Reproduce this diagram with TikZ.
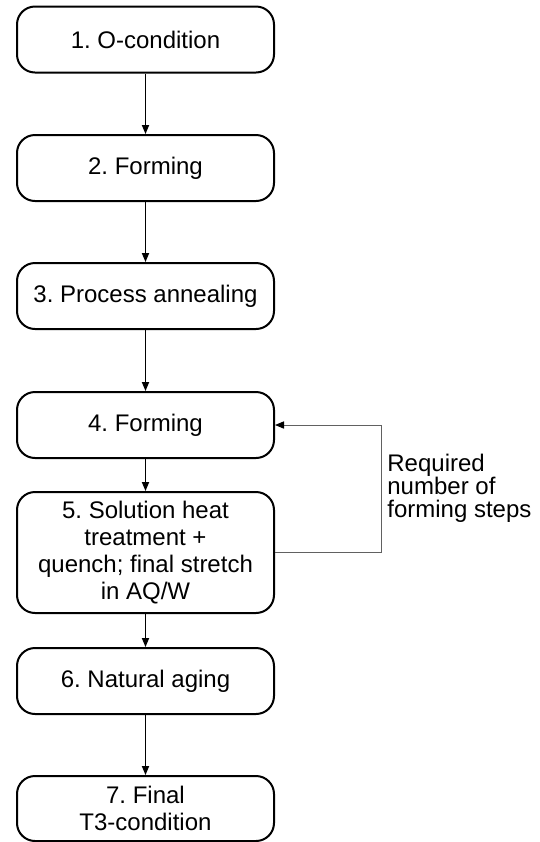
\documentclass[tikz,border=0pt]{standalone}
\usepackage{fontspec}
\setmainfont{Liberation Sans}
\usetikzlibrary{arrows.meta}
\frenchspacing
\tikzset{
  stepbox/.style={draw, line width=1pt, rounded corners=9pt, minimum width=128.5pt,
    minimum height=33pt, inner sep=0pt, align=center,
    font=\fontsize{12}{13.5}\selectfont},
  flow/.style={line width=0.6pt, -{Triangle[length=4.5pt,width=3.6pt]}},
  loopline/.style={line width=0.5pt, draw=black!62, -{Triangle[length=4.5pt,width=3.6pt,color=black]}},
  note/.style={align=left, inner sep=0pt, font=\fontsize{12}{11.6}\selectfont}
}
\begin{document}
\begin{tikzpicture}[x=0.5pt,y=-0.5pt]
  \useasboundingbox (0,0) rectangle (540,842);
  \node[stepbox] (n1) at (145.5,39.5) {1. O-condition};
  \node[stepbox] (n2) at (145.5,168) {2. Forming};
  \node[stepbox] (n3) at (145.5,296) {3. Process annealing};
  \node[stepbox] (n4) at (145.5,425) {4. Forming};
  \node[stepbox, minimum height=60.5pt] (n5) at (145.5,552.5)
    {5. Solution heat\\treatment +\\quench; final stretch\\in AQ/W};
  \node[stepbox] (n6) at (145.5,681) {6. Natural aging};
  \node[stepbox, minimum height=32.5pt] (n7) at (145.5,808.5) {7. Final\\T3-condition};

  \draw[flow] (n1) -- (n2);
  \draw[flow] (n2) -- (n3);
  \draw[flow] (n3) -- (n4);
  \draw[flow] (n4) -- (n5);
  \draw[flow] (n5) -- (n6);
  \draw[flow] (n6) -- (n7);

  % repeat loop back to forming
  \coordinate (turn) at (381,552.5);
  \draw[loopline] (n5.east) -- (turn) |- (n4.east);
  \node[note, anchor=west] (lbl) at (387,488) {Required\\number of\\forming steps};
\end{tikzpicture}
\end{document}
